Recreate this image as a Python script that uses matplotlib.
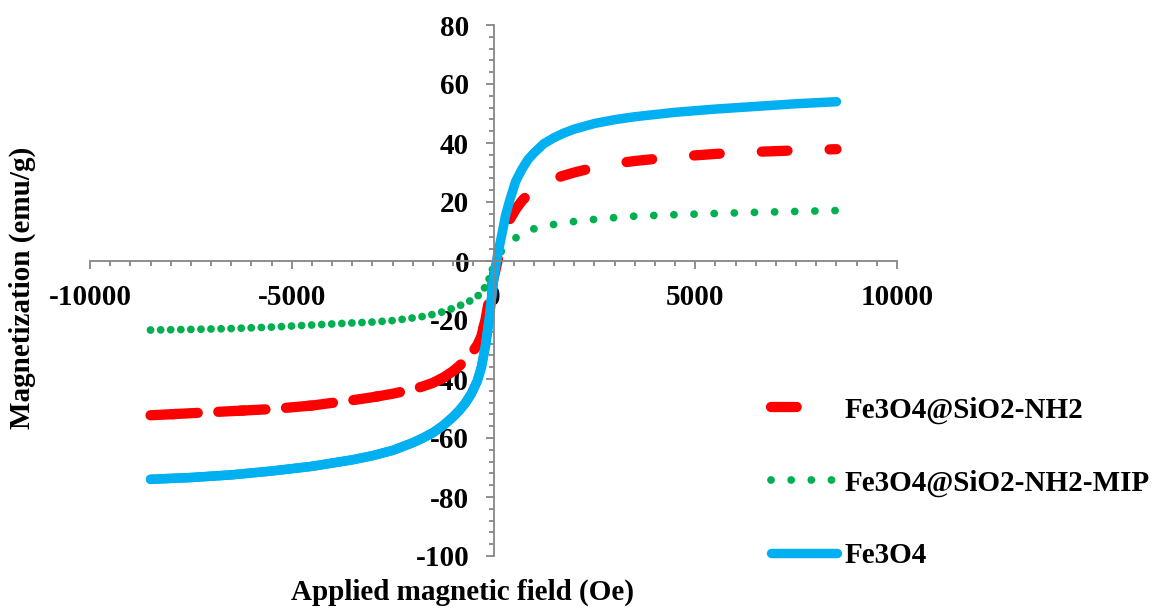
import matplotlib
matplotlib.use("Agg")
import matplotlib.pyplot as plt
from matplotlib.ticker import MultipleLocator
import numpy as np

# Applied field sweep (Oe)
field = [-8500, -7500, -6500, -5500, -4500, -3500, -3000, -2500, -2000, -1750,
         -1500, -1250, -1000, -850, -700, -550, -400, -300, -200, -100,
         0, 100, 200, 300, 400, 550, 700, 850, 1000, 1250,
         1500, 1750, 2000, 2500, 3000, 3500, 4500, 5500, 6500, 7500, 8500]

# Magnetization (emu/g) of each sample along the sweep
m_nh2 = [-52.3, -51.6, -50.9, -50.2, -49.0, -47.2, -46.2, -45.0, -43.5, -42.5,
         -41.3, -39.6, -37.3, -35.6, -33.6, -31.4, -28.5, -25.5, -20.0, -12.5,
         -6.0, 0.0, 5.5, 10.5, 14.0, 17.5, 20.3, 22.5, 24.2, 26.3,
         27.9, 29.0, 30.0, 31.7, 33.0, 33.9, 35.3, 36.3, 37.0, 37.5, 37.9]
m_mip = [-23.4, -23.2, -22.9, -22.4, -21.7, -21.0, -20.7, -20.2, -19.3, -18.8,
         -18.1, -17.2, -16.0, -15.2, -14.3, -13.3, -12.0, -10.6, -8.7, -5.8,
         -1.8, 1.5, 3.4, 4.8, 6.0, 7.8, 9.3, 10.2, 10.9, 11.8,
         12.4, 12.9, 13.4, 14.1, 14.7, 15.2, 15.7, 16.1, 16.5, 16.8, 17.1]
m_fe3o4 = [-74.0, -73.4, -72.5, -71.2, -69.6, -67.4, -66.0, -64.2, -61.6, -60.0,
           -58.2, -55.8, -52.8, -50.7, -48.2, -45.0, -40.6, -36.0, -28.8, -19.0,
           -6.5, 2.0, 8.5, 15.5, 20.5, 27.0, 31.0, 34.3, 36.6, 39.8,
           41.8, 43.4, 44.7, 46.6, 47.9, 48.9, 50.4, 51.5, 52.4, 53.3, 54.0]

labels = ["Fe3O4@SiO2-NH2", "Fe3O4@SiO2-NH2-MIP", "Fe3O4"]
colors = ["#FF0000", "#00B050", "#00B0F0"]

FONT = "Liberation Serif"
FS = 21
plt.rcParams["font.family"] = FONT
plt.rcParams["font.weight"] = "bold"
plt.rcParams["axes.unicode_minus"] = False

fig = plt.figure(figsize=(11.56, 6.09), dpi=100)
W, H = 1156, 609
ax = fig.add_axes([90 / W, 1 - 556 / H, (897 - 90) / W, (556 - 25) / H])

h = np.array(field)
neg = h <= 0

styles = [
    dict(lw=7.4, ls=(0, (2.5, 4.1)), ret_ls=(4.5, (2.5, 4.1))),
    dict(lw=5.6, ls=(0, (0.01, 2.58)), ret_ls=(1.29, (0.01, 2.58))),
    dict(lw=6.8, ls="-", ret_ls="-"),
]
handles = []
for m, lab, col, st in zip([m_nh2, m_mip, m_fe3o4], labels, colors, styles):
    m = np.array(m)
    ln, = ax.plot(h, m, color=col, lw=st["lw"], linestyle=st["ls"],
                  dash_capstyle="round", solid_capstyle="round",
                  solid_joinstyle="round", label=lab)
    # return sweep back to zero field retraces the negative branch
    ax.plot(h[neg], m[neg], color=col, lw=st["lw"], linestyle=st["ret_ls"],
            dash_capstyle="round", solid_capstyle="round",
            solid_joinstyle="round")
    handles.append(ln)

ax.set_xlim(-10000, 10000)
ax.set_ylim(-100, 80)

axis_col = "#868686"
for s in ["top", "right"]:
    ax.spines[s].set_visible(False)
ax.spines["left"].set_position(("data", 0))
ax.spines["bottom"].set_position(("data", 0))
for s in ["left", "bottom"]:
    ax.spines[s].set_color(axis_col)
    ax.spines[s].set_linewidth(1.3)

ax.xaxis.set_major_locator(MultipleLocator(5000))
ax.xaxis.set_minor_locator(MultipleLocator(500))
ax.yaxis.set_major_locator(MultipleLocator(20))
ax.yaxis.set_minor_locator(MultipleLocator(4))
ax.tick_params(axis="both", which="major", direction="out", length=5.5,
               width=1.3, color=axis_col, labelsize=FS, labelcolor="black")
ax.tick_params(axis="both", which="minor", direction="out", length=3.6,
               width=1.3, color=axis_col)
ax.tick_params(axis="x", which="major", pad=11)
ax.tick_params(axis="y", which="major", pad=12)
for t in ax.get_xticklabels() + ax.get_yticklabels():
    t.set_fontweight("bold")
    t.set_fontfamily(FONT)

fig.text(463 / W, 1 - 592 / H, "Applied magnetic field (Oe)", ha="center",
         va="center", fontsize=FS, fontweight="bold", family=FONT)
fig.text(22 / W, 1 - 288 / H, "Magnetization (emu/g)", ha="center",
         va="center", rotation=90, fontsize=FS, fontweight="bold", family=FONT)

leg = ax.legend(handles=handles, labels=labels, loc="center left",
                bbox_to_anchor=(771 / W, 1 - 483 / H),
                bbox_transform=fig.transFigure, frameon=False,
                prop=dict(family=FONT, weight="bold", size=FS),
                handlelength=2.26, handletextpad=0.27, labelspacing=1.56,
                borderpad=0, borderaxespad=0)

fig.savefig("out.png", dpi=100)
